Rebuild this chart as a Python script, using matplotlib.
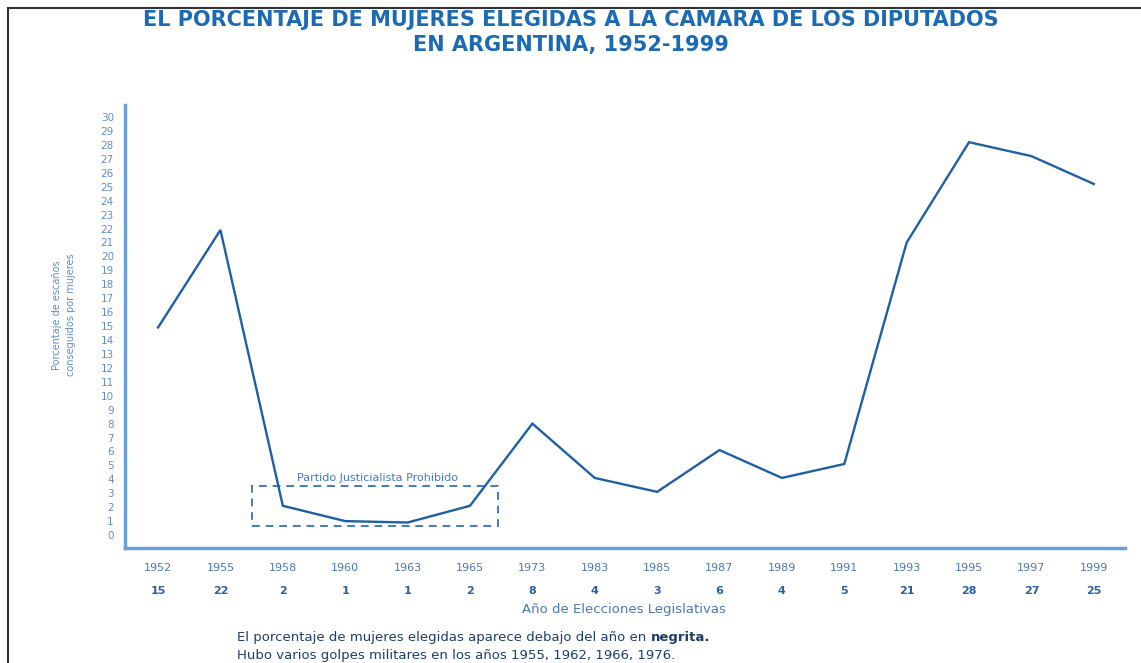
import matplotlib
matplotlib.use("Agg")
import matplotlib.pyplot as plt
from matplotlib.patches import Rectangle
from matplotlib.lines import Line2D

years = ["1952", "1955", "1958", "1960", "1963", "1965", "1973", "1983",
         "1985", "1987", "1989", "1991", "1993", "1995", "1997", "1999"]
pct = [15, 22, 2, 1, 1, 2, 8, 4, 3, 6, 4, 5, 21, 28, 27, 25]
# plotted points (slightly off the labelled integers in the original)
pct_line = [14.9, 21.9, 2.1, 1.0, 0.9, 2.1, 8.0, 4.1, 3.1, 6.1, 4.1, 5.1, 21.0, 28.2, 27.2, 25.2]
banned = (1.5, 5.45)  # index span of the "Partido Justicialista Prohibido" box

title_c = "#1a6ab4"
line_c = "#1f5fa3"
axis_c = "#6a9fd8"
tick_c = "#5f8fc8"
note_c = "#1f3d6b"

fig = plt.figure(figsize=(11.41, 6.63), dpi=100)
ax = fig.add_axes([125 / 1141, 1 - 548 / 663, 1000 / 1141, 443 / 663])

x = list(range(len(years)))
ax.plot(x, pct_line, color=line_c, lw=1.7, solid_joinstyle="miter")

ax.add_patch(Rectangle((banned[0], 0.65), banned[1] - banned[0], 2.85,
                       fill=False, ls=(0, (4, 3)), lw=1.4, ec="#3f7cc0"))
ax.text(sum(banned) / 2 + 0.05, 3.75, "Partido Justicialista Prohibido",
        ha="center", va="bottom", fontsize=8, color="#3f7cc0")

ax.set_xlim(-0.53, 15.5)
ax.set_ylim(-0.93, 30.87)
ax.set_yticks(range(0, 31))
ax.tick_params(axis="y", length=0, labelsize=7.5, labelcolor=tick_c, pad=8)
ax.set_xticks(x)
ax.set_xticklabels(years)
ax.tick_params(axis="x", length=0, labelsize=8, labelcolor="#4a78b0", pad=11)

for i, v in enumerate(pct):
    ax.annotate(str(v), xy=(i, 0), xycoords=("data", "axes fraction"),
                xytext=(0, -43), textcoords="offset pixels",
                ha="center", va="center", fontsize=8, fontweight="bold",
                color="#2a5fa5")

for side in ["top", "right"]:
    ax.spines[side].set_visible(False)
for side in ["left", "bottom"]:
    ax.spines[side].set_color(axis_c)
    ax.spines[side].set_linewidth(2.5)

fig.text(64 / 1141, 1 - 315 / 663, "Porcentaje de escaños\nconseguidos por mujeres",
         rotation=90, ha="center", va="center", fontsize=7, color=tick_c,
         linespacing=1.6)
fig.text(624 / 1141, 1 - 610 / 663, "Año de Elecciones Legislativas",
         ha="center", va="center", fontsize=9.5, color="#4a78b0")

fig.text(0.5, 1 - 25.5 / 663, "EL PORCENTAJE DE MUJERES ELEGIDAS A LA CAMARA DE LOS DIPUTADOS",
         ha="center", va="baseline", fontsize=15, fontweight="bold", color=title_c)
fig.text(0.5, 1 - 50.5 / 663, "EN ARGENTINA, 1952-1999",
         ha="center", va="baseline", fontsize=15, fontweight="bold", color=title_c)

t1 = fig.text(237 / 1141, 1 - 638 / 663,
              "El porcentaje de mujeres elegidas aparece debajo del año en ",
              ha="left", va="center", fontsize=9.5, color=note_c)
ax.annotate("negrita.", xy=(1, 0.5), xycoords=t1, ha="left", va="center",
            fontsize=9.5, fontweight="bold", color=note_c, annotation_clip=False)
fig.text(237 / 1141, 1 - 655 / 663,
         "Hubo varios golpes militares en los años 1955, 1962, 1966, 1976.",
         ha="left", va="center", fontsize=9.5, color=note_c)

# outer frame (left and top edges only, as in the original crop)
fig.add_artist(Line2D([8 / 1141, 8 / 1141], [0, 1 - 8 / 663], color="#333333", lw=1.5))
fig.add_artist(Line2D([8 / 1141, 1], [1 - 8 / 663, 1 - 8 / 663], color="#333333", lw=1.5))

fig.savefig("out.png", dpi=100)
